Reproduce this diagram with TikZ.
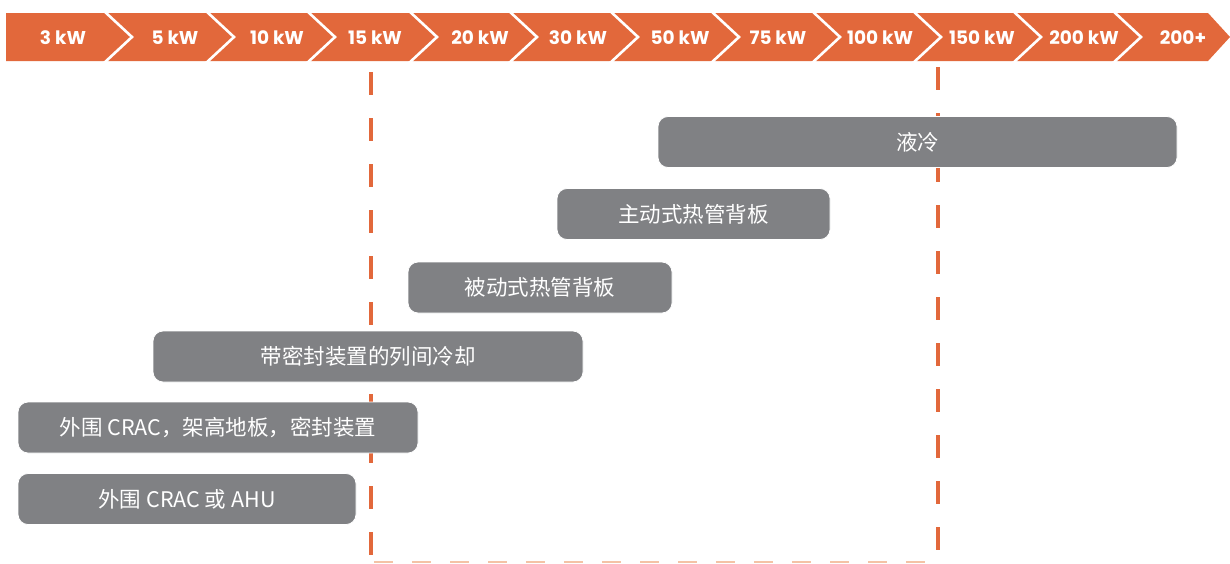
\documentclass[tikz,border=0pt]{standalone}
\usepackage{fontspec}
\newfontfamily\cjk{Noto Sans CJK SC}
\newfontfamily\pop{Poppins}
\definecolor{bandorange}{HTML}{E2683B}
\definecolor{lightorange}{HTML}{F4C3A6}
\definecolor{bargray}{HTML}{808184}
\tikzset{
  kwlabel/.style={text=white, font=\pop\bfseries\fontsize{18.5}{22}\selectfont, inner sep=0pt},
  sep/.style={draw=white, line width=2.6pt, line join=miter},
  guide/.style={draw=bandorange, line width=3.4pt, dash pattern=on 23pt off 23pt},
  bar/.style={rectangle, rounded corners=10pt, fill=bargray, draw=white, line width=0.8pt,
    text=white, font=\cjk\fontsize{21.5}{24}\selectfont, inner sep=0pt, minimum height=51pt},
}
\begin{document}
\begin{tikzpicture}[x=1pt, y=-1pt]
\useasboundingbox (0,0) rectangle (1230,563);
% band
\fill[bandorange] (6,13) -- (1208,13) -- (1230,37) -- (1208,61) -- (6,61) -- cycle;
\foreach \n in {104,206,307,409,509,610,711,812,913,1013,1113}{
  \draw[sep] (\n,11) -- (\n+28,37) -- (\n,63);
}
\foreach \x/\t [count=\i] in {63/3 kW,175/5 kW,277/10 kW,375/15 kW,480/20 kW,578/30 kW,680/50 kW,778/75 kW,880/100 kW,982/150 kW,1084/200 kW,1183/200+}{
  \node[kwlabel] (k\i) at (\x,38) {\t};
}
% guides
\coordinate (l1) at (371,72);
\coordinate (l2) at (371,563);
\coordinate (r1) at (938,67);
\coordinate (r2) at (938,563);
\draw[guide] (l1) -- (l2);
\draw[guide] (r1) -- (r2);
\draw[lightorange, line width=2pt, dash pattern=on 19pt off 19pt] (374,562) -- (r2|-0,562);
% bars
\node[bar, minimum width=519pt] (b1) at (917.5,142) {液冷};
\node[bar, minimum width=273pt] (b2) at (693.5,214) {主动式热管背板};
\node[bar, minimum width=264pt] (b3) at (540,287.5) {被动式热管背板};
\node[bar, minimum width=430pt] (b4) at (368,356.5) {带密封装置的列间冷却};
\node[bar, minimum width=400pt] (b5) at (218,427.5) {外围 CRAC，架高地板，密封装置};
\node[bar, minimum width=338pt] (b6) at (187,499) {外围 CRAC 或 AHU};
\end{tikzpicture}
\end{document}
